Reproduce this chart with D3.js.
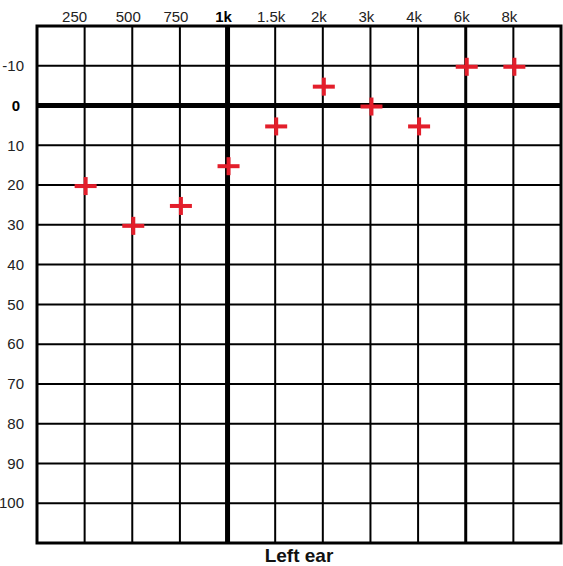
<!DOCTYPE html>
<html>
<head>
<meta charset="utf-8">
<script src="https://cdn.jsdelivr.net/npm/d3@7"></script>
<style>
  html, body { margin: 0; padding: 0; background: #fff; }
  svg { display: block; }
</style>
</head>
<body>
<div id="chart"></div>
<script>
const width = 563;
const height = 566;

// Audiogram values
const frequencies = ['250', '500', '750', '1k', '1.5k', '2k', '3k', '4k', '6k', '8k'];
const thresholds = [20, 30, 25, 15, 5, -5, 0, 5, -10, -10];
const db_ticks = [-10, 0, 10, 20, 30, 40, 50, 60, 70, 80, 90, 100];
const db_range = [-20, 110];
const chart_title = 'Left ear';

const margin = {top: 26, right: 2, bottom: 23, left: 37};

const styles = {
  grid_line: {stroke: '#000', 'stroke-width': 2},
  border: {fill: 'none', stroke: '#000', 'stroke-width': 3},
  tick_text: {'font-family': 'Liberation Sans, Arial, sans-serif', 'font-size': 15, fill: '#222'},
  title: {'font-family': 'Liberation Sans, Arial, sans-serif', 'font-size': 19, 'font-weight': 'bold', fill: '#111', 'text-anchor': 'middle'},
  cross: {stroke: '#e31e2b', 'stroke-width': 4, 'stroke-linecap': 'butt'},
};

// lines that are drawn heavier than the rest
const heavy_x = {'1k': 5, '6k': 3};
const heavy_y = {0: 5};
const bold_labels = ['1k', 0];

const cross_w = 22;
const cross_h = 18;

const svg = d3.select('#chart').append('svg')
  .attr('width', width)
  .attr('height', height);

const x = d3.scalePoint()
  .domain(frequencies)
  .range([margin.left, width - margin.right])
  .padding(1);

const y = d3.scaleLinear()
  .domain(db_range)
  .range([margin.top, height - margin.bottom]);

function applyAttrs(sel, atts){
  Object.entries(atts).forEach(([k, v]) => sel.attr(k, v));
  return sel;
}

// vertical grid lines, one per frequency
svg.append('g').attr('class', 'v_grid')
  .selectAll('line')
  .data(frequencies)
  .join('line')
  .call(applyAttrs, styles.grid_line)
  .attr('x1', d => x(d)).attr('x2', d => x(d))
  .attr('y1', y(db_range[0])).attr('y2', y(db_range[1]))
  .attr('stroke-width', d => heavy_x[d] || 2);

// horizontal grid lines, one per dB tick
svg.append('g').attr('class', 'h_grid')
  .selectAll('line')
  .data(db_ticks)
  .join('line')
  .call(applyAttrs, styles.grid_line)
  .attr('x1', margin.left).attr('x2', width - margin.right)
  .attr('y1', d => y(d)).attr('y2', d => y(d))
  .attr('stroke-width', d => heavy_y[d] || 2);

// outer frame
svg.append('rect')
  .call(applyAttrs, styles.border)
  .attr('x', margin.left)
  .attr('y', margin.top)
  .attr('width', width - margin.right - margin.left)
  .attr('height', y(db_range[1]) - margin.top);

// frequency labels along the top
svg.append('g').attr('class', 'x_labels')
  .selectAll('text')
  .data(frequencies)
  .join('text')
  .call(applyAttrs, styles.tick_text)
  .attr('x', (d, i) => x(d) - (i === 0 ? 10 : 4))
  .attr('y', margin.top - 4)
  .attr('text-anchor', 'middle')
  .attr('font-weight', d => bold_labels.includes(d) ? 'bold' : 'normal')
  .attr('fill', d => bold_labels.includes(d) ? '#000' : '#222')
  .text(d => d);

// dB labels down the left
svg.append('g').attr('class', 'y_labels')
  .selectAll('text')
  .data(db_ticks)
  .join('text')
  .call(applyAttrs, styles.tick_text)
  .attr('x', d => d === 0 ? 20 : 24)
  .attr('y', d => y(d))
  .attr('dy', '0.35em')
  .attr('text-anchor', 'end')
  .attr('font-weight', d => bold_labels.includes(d) ? 'bold' : 'normal')
  .attr('fill', d => bold_labels.includes(d) ? '#000' : '#222')
  .text(d => d);

// threshold markers as red crosses
const marks = frequencies.map((f, i) => ({freq: f, db: thresholds[i]}));

const crosses = svg.append('g').attr('class', 'crosses')
  .selectAll('g')
  .data(marks)
  .join('g')
  .attr('transform', d => `translate(${x(d.freq) + 1},${y(d.db) + 1})`);

crosses.append('line')
  .call(applyAttrs, styles.cross)
  .attr('x1', -cross_w / 2).attr('x2', cross_w / 2)
  .attr('y1', 0).attr('y2', 0);

crosses.append('line')
  .call(applyAttrs, styles.cross)
  .attr('x1', 0).attr('x2', 0)
  .attr('y1', -cross_h / 2).attr('y2', cross_h / 2);

// title under the chart
svg.append('text')
  .call(applyAttrs, styles.title)
  .attr('x', (margin.left + width - margin.right) / 2)
  .attr('y', height - 4)
  .text(chart_title);
</script>
</body>
</html>
